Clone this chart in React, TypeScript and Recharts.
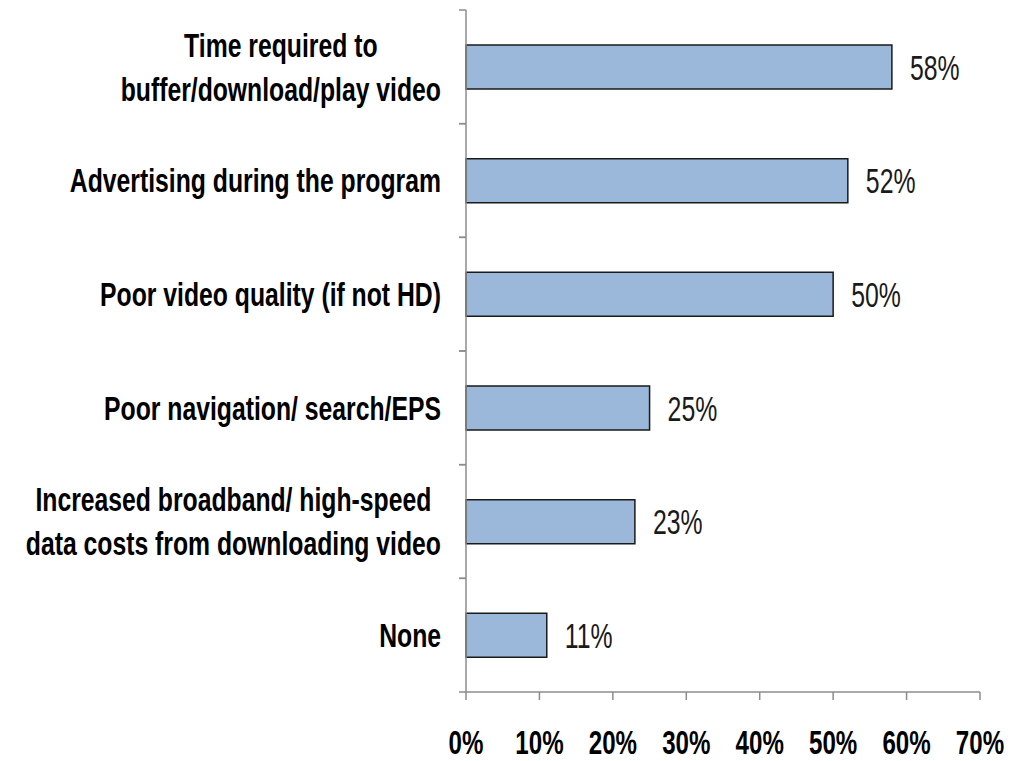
import { BarChart, Bar, XAxis, YAxis, LabelList } from "recharts";

const categories = [
  "Time required to\nbuffer/download/play video",
  "Advertising during the program",
  "Poor video quality (if not HD)",
  "Poor navigation/ search/EPS",
  "Increased broadband/ high-speed\ndata costs from downloading video",
  "None",
];
const shares = [58, 52, 50, 25, 23, 11];
const xTicks = [0, 10, 20, 30, 40, 50, 60, 70];

const data = categories.map((name, i) => ({ name, value: shares[i] }));

const W = 1008;
const H = 753;
const TOP = 2;
const X_AXIS_H = 69;
const BAND = (H - TOP - X_AXIS_H) / categories.length;

const FONT = "'Liberation Sans', Arial, sans-serif";
const SQUEEZE = 0.71;
const LABEL_SQUEEZE = 0.75;
const LABEL_SIZE = 33;
const AXIS = "#8c8c8c";

let measureCtx: CanvasRenderingContext2D | null = null;
function textWidth(s: string) {
  if (!measureCtx) measureCtx = document.createElement("canvas").getContext("2d");
  if (!measureCtx) return s.length * LABEL_SIZE * 0.55;
  measureCtx.font = `bold ${LABEL_SIZE}px ${FONT}`;
  return measureCtx.measureText(s).width;
}

function CategoryTick({ x, y, payload }: any) {
  const lines = String(payload.value).split("\n");
  const lh = 44;
  const start = -((lines.length - 1) * lh) / 2;
  const blockW = Math.max(...lines.map(textWidth));
  return (
    <g>
      <line x1={x - 7} x2={x} y1={y - BAND / 2} y2={y - BAND / 2} stroke={AXIS} strokeWidth={1.5} />
      <line x1={x - 7} x2={x} y1={y + BAND / 2} y2={y + BAND / 2} stroke={AXIS} strokeWidth={1.5} />
      <g transform={`translate(${x - 25},${y}) scale(${LABEL_SQUEEZE},1)`}>
        <text x={-blockW / 2} y={0} textAnchor="middle" fontFamily={FONT} fontWeight="bold" fontSize={LABEL_SIZE} fill="#000">
          {lines.map((l, i) => (
            <tspan key={i} x={-blockW / 2} y={start + i * lh} dy="0.36em">
              {l}
            </tspan>
          ))}
        </text>
      </g>
    </g>
  );
}

function PercentTick({ x, y, payload }: any) {
  return (
    <g transform={`translate(${x},${y}) scale(${SQUEEZE},1)`}>
      <text x={0} y={0} dy="0.71em" textAnchor="middle" fontFamily={FONT} fontWeight="bold" fontSize={34} fill="#000">
        {`${payload.value}%`}
      </text>
    </g>
  );
}

function ValueLabel({ x, y, width, height, value }: any) {
  return (
    <g transform={`translate(${x + width + 18},${y + height / 2}) scale(${SQUEEZE},1)`}>
      <text x={0} y={0} dy="0.36em" fontFamily={FONT} fontSize={35} fill="#1a1a1a">
        {`${value}%`}
      </text>
    </g>
  );
}

export default function App() {
  return (
    <div style={{ width: W, height: H }}>
      <BarChart
        width={W}
        height={H}
        data={data}
        layout="vertical"
        margin={{ top: TOP, right: 36, left: 0, bottom: 0 }}
      >
        <XAxis
          type="number"
          domain={[0, 70]}
          ticks={xTicks}
          height={X_AXIS_H}
          tickSize={8}
          tickMargin={30}
          axisLine={{ stroke: AXIS, strokeWidth: 1.5 }}
          tickLine={{ stroke: AXIS, strokeWidth: 1.5 }}
          tick={<PercentTick />}
        />
        <YAxis
          type="category"
          dataKey="name"
          width={458}
          axisLine={{ stroke: AXIS, strokeWidth: 1.5 }}
          tickLine={false}
          tickSize={0}
          tickMargin={0}
          tick={<CategoryTick />}
          interval={0}
        />
        <Bar
          dataKey="value"
          barSize={44}
          fill="#9bb8da"
          stroke="#1a1a1a"
          strokeWidth={1.5}
          isAnimationActive={false}
        >
          <LabelList dataKey="value" content={<ValueLabel />} />
        </Bar>
      </BarChart>
    </div>
  );
}
